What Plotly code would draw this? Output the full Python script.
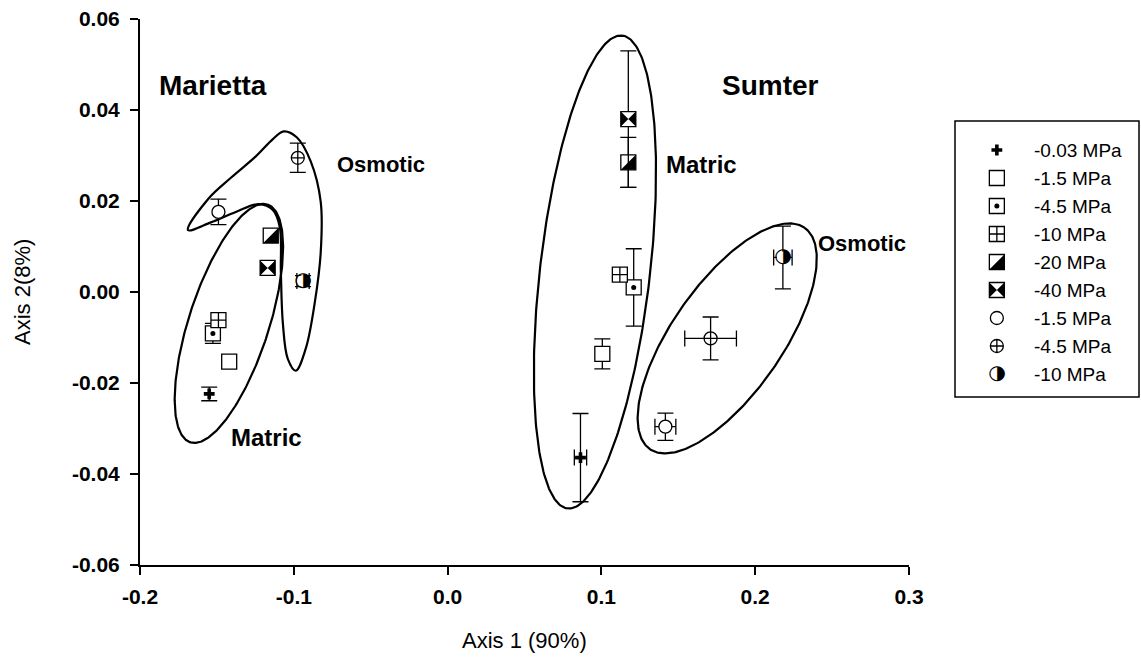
import numpy as np
import plotly.graph_objects as go

# ---------------- data ----------------
pressures = ["-0.03 MPa", "-1.5 MPa", "-4.5 MPa", "-10 MPa", "-20 MPa", "-40 MPa",
             "-1.5 MPa", "-4.5 MPa", "-10 MPa"]
stress = ["Matric"] * 6 + ["Osmotic"] * 3

marietta_x = [-0.155, -0.142, -0.1526, -0.149, -0.115, -0.117, -0.149, -0.0974, -0.094]
marietta_y = [-0.0224, -0.0153, -0.0091, -0.0062, 0.0124, 0.0053, 0.0176, 0.0295, 0.0024]
marietta_ex = [0.0, 0.0, 0.0, 0.0, 0.0, 0.0, 0.0, 0.0, 0.004]
marietta_ey = [0.0015, 0.0, 0.0022, 0.0, 0.0, 0.0, 0.0028, 0.0032, 0.0012]

sumter_x = [0.0864, 0.1006, 0.121, 0.112, 0.1175, 0.1175, 0.1416, 0.171, 0.218]
sumter_y = [-0.0364, -0.0136, 0.001, 0.0038, 0.0285, 0.038, -0.0296, -0.0102, 0.0076]
sumter_ex = [0.004, 0.0, 0.0, 0.0, 0.0, 0.0, 0.0068, 0.0168, 0.006]
sumter_ey = [0.0097, 0.0033, 0.0085, 0.0, 0.0055, 0.015, 0.003, 0.0047, 0.0069]

x_tickvals = [-0.2, -0.1, 0.0, 0.1, 0.2, 0.3]
x_ticktext = ["-0.2", "-0.1", "0.0", "0.1", "0.2", "0.3"]
y_tickvals = [-0.06, -0.04, -0.02, 0.0, 0.02, 0.04, 0.06]
y_ticktext = ["-0.06", "-0.04", "-0.02", "0.00", "0.02", "0.04", "0.06"]

# group outlines (decoration): ellipse centre in data units, semi-axes in px, angle in degrees
ellipses = [
    dict(cx=0.0958, cy=0.0044, a=238, b=55, ang=83.4),   # Sumter matric
    dict(cx=0.1818, cy=-0.0102, a=135, b=55, ang=55.0),  # Sumter osmotic
    dict(cx=-0.1422, cy=-0.0069, a=125, b=40, ang=72.0), # Marietta matric
]
# Marietta osmotic outline (hook shaped), data units
hook_x = [-0.1688, -0.1558, -0.1409, -0.1247, -0.1136, -0.1065, -0.0981, -0.0890, -0.0825,
          -0.0825, -0.0864, -0.0922, -0.0987, -0.1039, -0.1071, -0.1084, -0.1091, -0.1136,
          -0.1227, -0.1377, -0.1539, -0.1688]
hook_y = [0.0136, 0.0204, 0.0251, 0.0298, 0.0336, 0.0353, 0.0340, 0.0287, 0.0198,
          0.0087, -0.0024, -0.0124, -0.0173, -0.0147, -0.0069, 0.0042, 0.0142, 0.0180,
          0.0193, 0.0176, 0.0153, 0.0136]

# ---------------- layout geometry ----------------
W, H = 1141, 662
ML, MR, MT, MB = 140, 0, 19, 97
PW, PH = W - ML - MR, H - MT - MB
MAIN_W = 769
XR = [-0.2, 0.3]
YR = [-0.06, 0.06]
PXX = MAIN_W / (XR[1] - XR[0])
PXY = PH / (YR[1] - YR[0])

LEG_DOM = [0.80, 1.0]
LEG_XR = [0, 1]
LEG_STEP = 28.0
LEG_FIRST = 150 - MT  # px below plot top
LEG_YR = [-(PH - LEG_FIRST) / LEG_STEP, LEG_FIRST / LEG_STEP]
LPXX = PW * (LEG_DOM[1] - LEG_DOM[0]) / (LEG_XR[1] - LEG_XR[0])
LPXY = LEG_STEP

SQ = 15
CI = 13
LW = 1.3
kinds = ["cross", "square", "square_dot", "square_cross", "square_half", "square_bowtie",
         "circle", "circle_cross", "circle_half"]

fig = go.Figure()

# outlines
for e in ellipses:
    t = np.linspace(0, 2 * np.pi, 300)
    th = np.deg2rad(e["ang"])
    px = e["a"] * np.cos(t) * np.cos(th) - e["b"] * np.sin(t) * np.sin(th)
    py = e["a"] * np.cos(t) * np.sin(th) + e["b"] * np.sin(t) * np.cos(th)
    fig.add_trace(go.Scatter(x=e["cx"] + px / PXX, y=e["cy"] + py / PXY, mode="lines",
                             line=dict(color="black", width=2.2), showlegend=False,
                             hoverinfo="skip"))
fig.add_trace(go.Scatter(x=hook_x, y=hook_y, mode="lines",
                         line=dict(color="black", width=2.2, shape="spline", smoothing=1.0),
                         showlegend=False, hoverinfo="skip"))


def add_symbol(x, y, kind, xa, ya, pxx, pxy, ex=0.0, ey=0.0):
    errx = dict(type="constant", value=ex, color="black", thickness=1.3, width=8,
                visible=ex > 0)
    erry = dict(type="constant", value=ey, color="black", thickness=1.3, width=8,
                visible=ey > 0)
    common = dict(mode="markers", xaxis=xa, yaxis=ya, showlegend=False,
                  hoverinfo="skip", cliponaxis=False)
    if kind == "cross":
        base = dict(symbol="cross", size=9, color="black", line=dict(width=0))
    elif kind.startswith("square"):
        sym = "square-cross" if kind == "square_cross" else "square"
        base = dict(symbol=sym, size=SQ, color="white", line=dict(color="black", width=LW))
    elif kind == "circle_half":
        base = dict(symbol="circle", size=CI - 1, color="white", line=dict(width=0))
    else:
        sym = "circle-cross" if kind == "circle_cross" else "circle"
        base = dict(symbol=sym, size=CI, color="white", line=dict(color="black", width=LW))
    fig.add_trace(go.Scatter(x=[x], y=[y], marker=base, error_x=errx, error_y=erry, **common))
    if kind == "square_dot":
        fig.add_trace(go.Scatter(x=[x], y=[y], marker=dict(symbol="circle", size=5,
                                 color="black", line=dict(width=0)), **common))
    elif kind == "square_bowtie":
        fig.add_trace(go.Scatter(x=[x], y=[y], marker=dict(symbol="bowtie", size=SQ,
                                 color="black", line=dict(width=0)), **common))
    elif kind == "square_half":
        s = SQ / 2.0
        fig.add_trace(go.Scatter(x=[x + (s / 3.0) / pxx], y=[y - (s / 3.0) / pxy],
                                 marker=dict(symbol="triangle-se", size=SQ / 0.9,
                                             color="black", line=dict(width=0)), **common))
    elif kind == "circle_half":
        fig.add_trace(go.Scatter(x=[x], y=[y], mode="text", text=["\u25D1"],
                                 textposition="middle center",
                                 textfont=dict(family="DejaVu Sans", size=20, color="black"),
                                 xaxis=xa, yaxis=ya, showlegend=False, hoverinfo="skip",
                                 cliponaxis=False))


for i, k in enumerate(kinds):
    add_symbol(marietta_x[i], marietta_y[i], k, "x", "y", PXX, PXY,
               marietta_ex[i], marietta_ey[i])
    add_symbol(sumter_x[i], sumter_y[i], k, "x", "y", PXX, PXY,
               sumter_ex[i], sumter_ey[i])

# legend drawn on auxiliary axes
for i, k in enumerate(kinds):
    add_symbol(0.28, -i, k, "x2", "y2", LPXX, LPXY)

FONT = "Liberation Sans, Arial, sans-serif"
ann = []
for i, lab in enumerate(pressures):
    ann.append(dict(text=lab, x=0.455, y=-i, xref="x2", yref="y2", xanchor="left",
                    yanchor="middle", showarrow=False,
                    font=dict(family=FONT, size=19, color="black")))

labels = [
    ("Marietta", -0.1526, 0.0453, 28),
    ("Sumter", 0.2097, 0.0453, 28),
    ("Osmotic", -0.0435, 0.0280, 22),
    ("Matric", -0.1175, -0.0320, 24),
    ("Matric", 0.1650, 0.0280, 24),
    ("Osmotic", 0.2695, 0.0107, 22),
]
for t, x, y, s in labels:
    ann.append(dict(text="<b>%s</b>" % t, x=x, y=y, xref="x", yref="y", showarrow=False,
                    xanchor="center", yanchor="middle",
                    font=dict(family=FONT, size=s, color="black")))

# axis titles
ann.append(dict(text="Axis 1 (90%)", xref="paper", yref="paper",
                x=(MAIN_W / 2) / PW, y=(PH - (640 - MT)) / PH, showarrow=False,
                xanchor="center", yanchor="middle", font=dict(family=FONT, size=22, color="black")))
ann.append(dict(text="Axis 2(8%)", xref="paper", yref="paper",
                x=(22 - ML) / PW, y=0.5, showarrow=False, textangle=-90,
                xanchor="center", yanchor="middle", font=dict(family=FONT, size=22, color="black")))

shapes = [dict(type="rect", xref="paper", yref="paper",
               x0=(955 - ML) / PW, x1=(1139 - ML) / PW,
               y0=(PH - (397 - MT)) / PH, y1=(PH - (121 - MT)) / PH,
               line=dict(color="black", width=1.5), fillcolor="rgba(0,0,0,0)")]

fig.update_layout(
    width=W, height=H, margin=dict(l=ML, r=MR, t=MT, b=MB, autoexpand=False),
    paper_bgcolor="white", plot_bgcolor="white", showlegend=False,
    font=dict(family=FONT, color="black"),
    xaxis=dict(domain=[0, MAIN_W / PW], range=XR, anchor="y", showline=True,
               linecolor="black", linewidth=2, ticks="outside", ticklen=8, tickwidth=1.5,
               tickcolor="black", tickvals=x_tickvals, ticktext=x_ticktext,
               showgrid=False, zeroline=False, ticklabelstandoff=4,
               tickfont=dict(family=FONT, size=21, color="black", weight="bold")),
    yaxis=dict(domain=[0, 1], range=YR, anchor="x", showline=True, linecolor="black",
               linewidth=2, ticks="outside", ticklen=8, tickwidth=1.5, tickcolor="black",
               tickvals=y_tickvals, ticktext=y_ticktext, showgrid=False, zeroline=False,
               ticklabelstandoff=6,
               tickfont=dict(family=FONT, size=21, color="black", weight="bold")),
    xaxis2=dict(domain=LEG_DOM, range=LEG_XR, anchor="y2", visible=False, fixedrange=True),
    yaxis2=dict(domain=[0, 1], range=LEG_YR, anchor="x2", visible=False, fixedrange=True),
    annotations=ann, shapes=shapes,
)

fig.write_html("out.html")
